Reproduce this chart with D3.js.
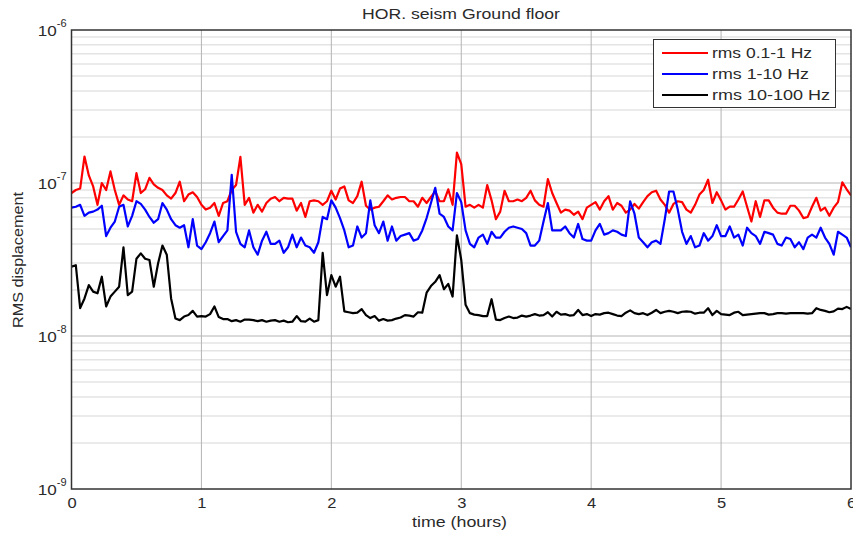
<!DOCTYPE html>
<html><head><meta charset="utf-8">
<script src="https://cdn.jsdelivr.net/npm/d3@7"></script>
<style>body{margin:0;background:#fff;}svg{display:block;font-family:"Liberation Sans",Arial,sans-serif;}</style>
</head><body>
<svg id="chart" width="853" height="533"></svg>
<script>
// time step between samples (hours); values in nanometres (1e-9 m)
const stepHours = 1/30;
const unit = 1e-9;
const seriesNames = ["rms 0.1-1 Hz", "rms 1-10 Hz", "rms 10-100 Hz"];
const seriesColors = ["#ff0000", "#0000ff", "#000000"];
const xTicks = [0,1,2,3,4,5,6];
const yDecades = [-9,-8,-7,-6];

const rms01_1 = [
 86,90,92,149,112,95,72,100,90,119,90,72,83,78,76,116,86,91,108,98,93,90,83,79,86,102,76,84,87,81,72,67,69,74,61,74,
 76,90,97,148,72,80,64,72,65,74,79,81,76,80,79,79,66,74,60,76,77,76,72,76,89,78,92,95,77,74,82,102,71,67,69,70,
 76,83,78,80,81,81,76,76,70,80,74,81,88,76,76,91,72,158,133,70,72,69,72,69,97,77,58,65,89,76,76,78,76,80,89,77,
 72,70,106,86,74,64,67,66,62,65,58,69,72,75,67,76,82,67,74,71,64,67,73,68,75,82,87,89,78,72,64,73,76,75,67,64,
 72,84,90,105,74,87,77,67,70,70,78,88,70,56,76,60,77,77,69,64,63,63,71,71,66,59,60,70,80,66,69,61,69,75,101,91,83
];
const rms1_10 = [
 69,70,72,61,64,65,67,71,45,51,56,70,72,52,61,76,73,67,60,55,58,74,67,58,53,51,53,38,58,39,37,41,47,56,41,45,
 49,113,48,40,38,49,38,34,42,48,40,40,42,35,38,46,38,44,39,38,35,41,60,58,77,69,59,49,38,39,52,44,47,77,53,47,
 56,42,52,42,45,46,47,42,43,49,59,74,93,63,60,52,49,86,75,49,40,38,44,46,40,48,44,44,48,51,52,51,50,47,39,39,
 42,56,74,49,49,49,52,47,44,54,43,42,42,49,54,46,47,49,48,46,45,76,63,44,41,38,41,42,40,58,88,88,67,48,40,45,
 38,39,47,42,45,53,45,45,52,44,46,39,51,47,45,40,48,47,46,40,39,44,43,38,41,37,44,46,44,51,44,40,34,48,46,44,38
];
const rms10_100 = [
 28.4,29,15.2,17.6,21.5,19.5,19,24.4,15.6,18.1,19.5,21,38,18.5,19.5,32,34.7,32,31.4,21,29.9,39,34,17.6,13,12.7,13.4,13.7,14.6,13.4,13.5,13.4,13.9,15.6,13.3,12.9,
 12.9,12.5,12.7,12.4,12.8,12.8,12.7,12.5,12.7,12.4,12.6,12.7,12.4,12.6,12.3,12.4,13.5,12.5,12.4,13,12.4,12.7,35,18.5,25,21,24.4,14.5,14.3,14.1,14.2,15,13.7,13.1,13.5,12.6,
 12.9,12.6,12.7,13,13.2,13.7,13.6,13.4,14.3,14.2,19.2,21.2,22.6,25,20.2,21.9,18.1,45.5,31.4,16,14.1,13.8,13.7,13.5,13.5,17.4,12.8,12.7,13.1,13.4,13.1,13.2,13.6,13.4,13.6,13.9,
 13.6,13.7,14.3,13.4,14.4,13.8,13.9,13.6,13.7,14.8,13.7,13.9,13.5,13.9,13.8,14.1,14.2,13.9,13.6,13.5,14.2,14.7,14.1,13.9,14.1,13.7,14.2,14.8,14.1,14.4,14.6,14.4,14.1,14.4,14.5,14.4,
 14,14.2,14.2,15.2,13.7,14.6,13.9,13.8,13.7,14.2,14.4,13.7,13.8,13.9,14,14.1,14.1,13.8,13.9,14.1,14.1,14,14.1,14.1,14.1,14.1,14,14.1,15.2,14.8,14.6,14.3,14.5,15.1,15,15.5,15
];
const seriesValues = [rms01_1, rms1_10, rms10_100];

const svg = d3.select("#chart");
const L = 71.5, R = 851, T = 30, B = 489;
const x = d3.scaleLinear().domain([0,6]).range([L,R]);
const y = d3.scaleLog().domain([1e-9,1e-6]).range([B,T]);
const txt = "#2a2a2a";

// minor grid
const minor = [];
for (let d = -9; d < -6; d++) for (let m = 2; m <= 9; m++) minor.push(m*Math.pow(10,d));
svg.append("g").selectAll("line").data(minor).join("line")
  .attr("x1",L).attr("x2",R).attr("y1",d=>y(d)).attr("y2",d=>y(d))
  .attr("stroke","#e4e4e4").attr("stroke-width",1.5);
// major grid
svg.append("g").selectAll("line").data(yDecades.slice(1,3)).join("line")
  .attr("x1",L).attr("x2",R).attr("y1",d=>y(Math.pow(10,d))).attr("y2",d=>y(Math.pow(10,d)))
  .attr("stroke","#b4b4b4").attr("stroke-width",1);
svg.append("g").selectAll("line").data(xTicks.slice(1,6)).join("line")
  .attr("x1",d=>x(d)).attr("x2",d=>x(d)).attr("y1",T).attr("y2",B)
  .attr("stroke","#b4b4b4").attr("stroke-width",1);

// series
svg.append("clipPath").attr("id","c").append("rect")
  .attr("x",L).attr("y",T).attr("width",R-L).attr("height",B-T);
const line = d3.line().x((d,i)=>x(i*stepHours)).y(d=>y(d*unit));
seriesValues.forEach((vals,k)=>{
  svg.append("path").datum(vals).attr("d",line).attr("clip-path","url(#c)")
    .attr("fill","none").attr("stroke",seriesColors[k]).attr("stroke-width",2.2)
    .attr("stroke-linejoin","round");
});

// frame
svg.append("rect").attr("x",L).attr("y",T).attr("width",R-L).attr("height",B-T)
  .attr("fill","none").attr("stroke","#333").attr("stroke-width",1.5);

// x axis
const xAxis = d3.axisBottom(x).tickValues(xTicks).tickSize(0).tickPadding(8).tickFormat(d3.format("d"));
const gx = svg.append("g").attr("transform",`translate(0,${B})`).call(xAxis);
gx.select(".domain").remove();
gx.selectAll("text").attr("font-size",15).attr("fill",txt).attr("font-family","Liberation Sans, Arial, sans-serif")
  .attr("transform","scale(1.1,1)");

// y axis labels with superscripts
const gy = svg.append("g");
yDecades.forEach(d=>{
  const yy = y(Math.pow(10,d));
  const t = gy.append("text").attr("x",L-5).attr("y",yy+6).attr("text-anchor","end")
    .attr("fill",txt);
  t.append("tspan").attr("font-size",15).attr("textLength",19).attr("lengthAdjust","spacingAndGlyphs").text("10");
  t.append("tspan").attr("font-size",11).attr("dy",-9).text(String(d));
});

// titles
svg.append("text").attr("x",362).attr("y",19)
  .attr("font-size",14).attr("fill",txt).attr("textLength",198).attr("lengthAdjust","spacingAndGlyphs")
  .text("HOR. seism Ground floor");
svg.append("text").attr("x",412).attr("y",527)
  .attr("font-size",15).attr("fill",txt).attr("textLength",95).attr("lengthAdjust","spacingAndGlyphs")
  .text("time (hours)");
svg.append("text").attr("transform","translate(23,328) rotate(-90)")
  .attr("font-size",15).attr("fill",txt).attr("textLength",136).attr("lengthAdjust","spacingAndGlyphs")
  .text("RMS displacement");

// legend
const legendWidths = [100, 97, 118];
const lg = svg.append("g");
lg.append("rect").attr("x",653.5).attr("y",39.5).attr("width",182).attr("height",68)
  .attr("fill","#fff").attr("stroke","#333").attr("stroke-width",1);
seriesNames.forEach((n,k)=>{
  const yy = 53 + k*21;
  lg.append("line").attr("x1",662).attr("x2",708).attr("y1",yy).attr("y2",yy)
    .attr("stroke",seriesColors[k]).attr("stroke-width",2);
  lg.append("text").attr("x",712).attr("y",yy+5).attr("font-size",14).attr("fill",txt)
    .attr("textLength",legendWidths[k]).attr("lengthAdjust","spacingAndGlyphs").text(n);
});
</script>
</body></html>
